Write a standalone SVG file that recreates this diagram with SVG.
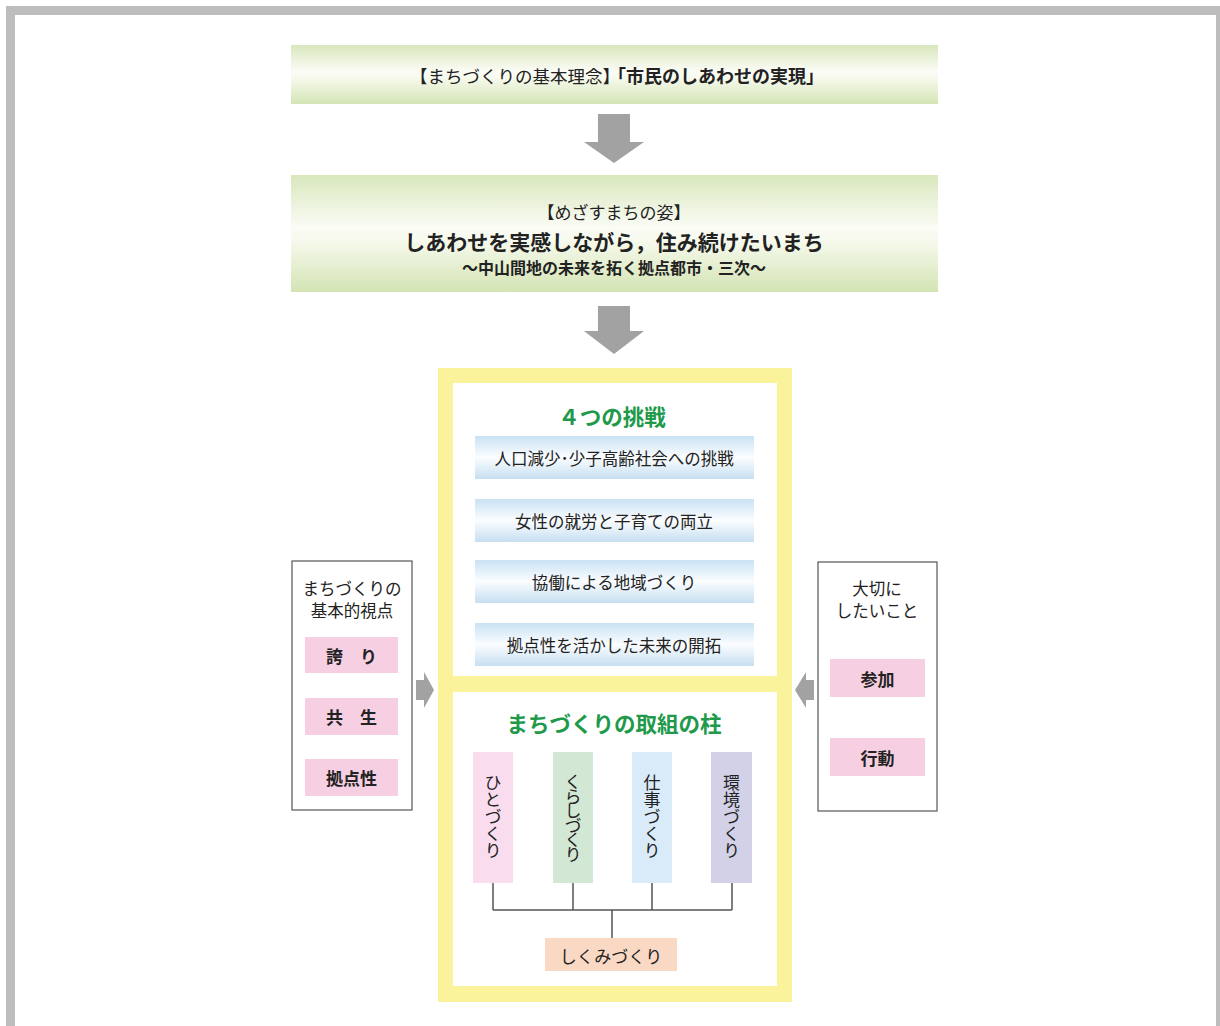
<svg xmlns="http://www.w3.org/2000/svg" width="1220" height="1026" viewBox="0 0 1220 1026">
<defs>
<linearGradient id="gGreen" x1="0" y1="0" x2="0" y2="1">
<stop offset="0" stop-color="#d8e7bc"/>
<stop offset="0.45" stop-color="#fbfcf6"/>
<stop offset="0.55" stop-color="#f7faee"/>
<stop offset="1" stop-color="#d3e4b3"/>
</linearGradient>
<linearGradient id="gBlue" x1="0" y1="0" x2="0" y2="1">
<stop offset="0" stop-color="#c9e2f4"/>
<stop offset="0.5" stop-color="#fbfdff"/>
<stop offset="1" stop-color="#c6dff1"/>
</linearGradient>
<style>
text{font-family:'Noto Sans CJK JP','Noto Sans',sans-serif;fill:#222;}
.c{text-anchor:middle;dominant-baseline:central;}
.b{font-weight:bold;}
.ttl{font-size:21.5px;font-weight:bold;fill:#20994a;}
.bar{font-size:16.5px;}
.pink{fill:#f7cfe2;}
.side{fill:#fff;stroke:#555;stroke-width:1.2;}
.arr{fill:#a2a2a2;}
.ln{stroke:#555;stroke-width:1.5;fill:none;}
.vt{writing-mode:vertical-rl;font-size:17px;text-anchor:middle;}
</style>
</defs>
<rect width="1220" height="1026" fill="#fff"/>
<g id="frame" fill="#bdbdbd">
<rect x="6" y="6" width="1214" height="9"/>
<rect x="6" y="6" width="9" height="1020"/>
<rect x="1216" y="6" width="4" height="1020"/>
</g>

<g id="node-concept">
<rect x="291" y="45" width="647" height="59" fill="url(#gGreen)"/>
<text x="620" y="75" text-anchor="end" dominant-baseline="central" font-size="17.5">【まちづくりの基本理念】</text>
<text x="608" y="75" dominant-baseline="central" class="b" font-size="18">「市民のしあわせの実現」</text>
</g>

<g id="node-vision">
<rect x="291" y="175" width="647" height="117" fill="url(#gGreen)"/>
<text x="614" y="211" class="c" font-size="17">【めざすまちの姿】</text>
<text x="614" y="241" class="c b" font-size="21">しあわせを実感しながら，住み続けたいまち</text>
<text x="614" y="267" class="c b" font-size="16">～中山間地の未来を拓く拠点都市・三次～</text>
</g>

<g id="node-frame">
<rect x="438" y="368" width="354" height="634" fill="#fbf29c"/>
<rect x="453" y="383" width="324" height="293" fill="#fff"/>
<rect x="453" y="692" width="324" height="294" fill="#fff"/>
</g>

<g id="node-challenges">
<text x="612" y="415" class="c ttl">４つの挑戦</text>
<rect x="475" y="436" width="279" height="43" fill="url(#gBlue)"/>
<text x="614" y="458" class="c bar">人口減少･少子高齢社会への挑戦</text>
<rect x="475" y="499" width="279" height="43" fill="url(#gBlue)"/>
<text x="614" y="521" class="c bar">女性の就労と子育ての両立</text>
<rect x="475" y="560" width="279" height="43" fill="url(#gBlue)"/>
<text x="614" y="582" class="c bar">協働による地域づくり</text>
<rect x="475" y="623" width="279" height="43" fill="url(#gBlue)"/>
<text x="614" y="645" class="c bar">拠点性を活かした未来の開拓</text>
</g>

<g id="node-pillars">
<text x="614" y="722" class="c ttl">まちづくりの取組の柱</text>
<g id="pillar-hito">
<rect x="473" y="752" width="40" height="131" fill="#f9dcee"/>
<text x="493" y="817" class="vt">ひとづくり</text>
</g>
<g id="pillar-kurashi">
<rect x="553" y="752" width="40" height="131" fill="#d3e8d4"/>
<text x="573" y="817" class="vt" letter-spacing="-2.5">くらしづくり</text>
</g>
<g id="pillar-shigoto">
<rect x="632" y="752" width="40" height="131" fill="#d9ebf9"/>
<text x="652" y="817" class="vt">仕事づくり</text>
</g>
<g id="pillar-kankyo">
<rect x="711" y="752" width="41" height="131" fill="#d2d1e8"/>
<text x="731.5" y="817" class="vt">環境づくり</text>
</g>
</g>

<g id="node-shikumi">
<rect x="545" y="938" width="132" height="33" fill="#f9d9c3"/>
<text x="611" y="955" class="c" font-size="17">しくみづくり</text>
</g>

<g id="node-viewpoint">
<rect x="292" y="561" width="120" height="249" class="side"/>
<text x="352" y="588" class="c" font-size="16.5">まちづくりの</text>
<text x="352" y="610" class="c" font-size="16.5">基本的視点</text>
<rect x="305" y="637" width="93" height="36" class="pink"/>
<text x="351.5" y="655" class="c b" font-size="17">誇　り</text>
<rect x="305" y="698" width="93" height="37" class="pink"/>
<text x="351.5" y="716.5" class="c b" font-size="17">共　生</text>
<rect x="305" y="759" width="93" height="37" class="pink"/>
<text x="351.5" y="777.5" class="c b" font-size="17">拠点性</text>
</g>

<g id="node-important">
<rect x="818" y="562" width="119" height="249" class="side"/>
<text x="877" y="588" class="c" font-size="16.5">大切に</text>
<text x="877" y="610" class="c" font-size="16.5">したいこと</text>
<rect x="830" y="659" width="95" height="38" class="pink"/>
<text x="877.5" y="678" class="c b" font-size="17">参加</text>
<rect x="830" y="738" width="95" height="38" class="pink"/>
<text x="877.5" y="757" class="c b" font-size="17">行動</text>
</g>

<g id="connectors">
<polygon class="arr" points="598,114 630,114 630,142 644,142 614,163 584,142 598,142"/>
<polygon class="arr" points="598,306 630,306 630,331 644,331 614,354 584,331 598,331"/>
<polygon class="arr" points="416,680 424,680 424,672 434,690 424,708 424,700 416,700"/>
<polygon class="arr" points="814,680 806,680 806,672 795,690 806,708 806,700 814,700"/>
<path class="ln" d="M493,883 V910 M573,883 V910 M652,883 V910 M732,883 V910 M493,910 H732 M612,910 V938"/>
</g>
</svg>
